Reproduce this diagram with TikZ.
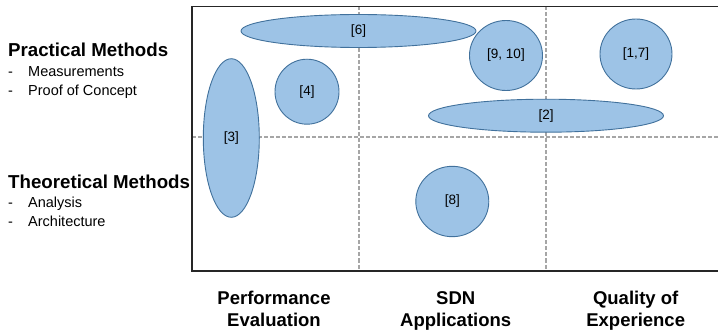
\documentclass[tikz,border=0pt]{standalone}
\usepackage{fontspec}
\setmainfont{Liberation Sans}
\usetikzlibrary{shapes.geometric}
\definecolor{bubblefill}{HTML}{9DC3E6}
\definecolor{bubbleline}{HTML}{41719C}
\definecolor{gridgray}{HTML}{A6A6A6}
\begin{document}
\begin{tikzpicture}[x=1pt,y=-1pt,
  bubble/.style={ellipse, draw=bubbleline, fill=bubblefill, line width=0.9pt, inner sep=0pt,
    font=\fontsize{13.5}{16}\selectfont},
  gridline/.style={draw=gridgray, line width=1.1pt, dash pattern=on 4pt off 2pt},
  axisline/.style={draw=black!85, line width=1.6pt},
  head/.style={anchor=base west, inner sep=0pt, font=\fontsize{18.7}{22}\selectfont\bfseries},
  item/.style={anchor=base west, inner sep=0pt, font=\fontsize{14.5}{17}\selectfont},
  collabel/.style={align=center, inner sep=0pt, font=\fontsize{18.5}{22}\selectfont\bfseries}
]
\useasboundingbox (0,0) rectangle (718,334);
% frame corners
\coordinate (tl) at (192,6.5);
\coordinate (bl) at (192,271);
\coordinate (tr) at (718,6.5);
\coordinate (br) at (718,271);
\coordinate (v1t) at (359,6.5);
\coordinate (v1b) at (359,271);
\coordinate (v2t) at (546,6.5);
\coordinate (v2b) at (546,271);
\coordinate (hl) at (192,137);
\coordinate (hr) at (718,137);
% dashed grid
\draw[gridline] (v1t) -- (v1b);
\draw[gridline] (v2t) -- (v2b);
\draw[gridline] (hl) -- (hr);
% bubbles
\node[bubble, minimum width=235pt, minimum height=33pt] (b6) at (358.5,31) {[6]};
\node[bubble, minimum width=73pt, minimum height=70pt] (b910) at (506,55.5) {[9, 10]};
\node[bubble, minimum width=72pt, minimum height=70pt] (b17) at (636,54) {[1,7]};
\node[bubble, minimum width=64pt, minimum height=65pt] (b4) at (307,91.7) {[4]};
\node[bubble, minimum width=235pt, minimum height=33pt] (b2) at (546,115.7) {[2]};
\node[bubble, minimum width=56pt, minimum height=158.6pt] (b3) at (231.3,138) {[3]};
\node[bubble, minimum width=73pt, minimum height=70.4pt] (b8) at (452.3,201.5) {[8]};
% axes
\draw[axisline] (tr) -- (tl) -- (bl) -- (br);
% left labels
\node[head] (pm) at (8,56.7) {Practical Methods};
\node[item] (pmd1) at (8,76.2) {-};
\node[item] (pm1) at (28,76.2) {Measurements};
\node[item] (pmd2) at (8,95.2) {-};
\node[item] (pm2) at (28,95.2) {Proof of Concept};
\node[head] (tm) at (8,188.4) {Theoretical Methods};
\node[item] (tmd1) at (8,207.9) {-};
\node[item] (tm1) at (28,207.9) {Analysis};
\node[item] (tmd2) at (8,226.9) {-};
\node[item] (tm2) at (28,226.9) {Architecture};
% column labels
\node[collabel, anchor=base] (c1) at (274,326.6) {Performance\\Evaluation};
\node[collabel, anchor=base] (c2) at (455.7,326.6) {SDN\\Applications};
\node[collabel, anchor=base] (c3) at (635.7,326.6) {Quality of\\Experience};
\end{tikzpicture}
\end{document}
